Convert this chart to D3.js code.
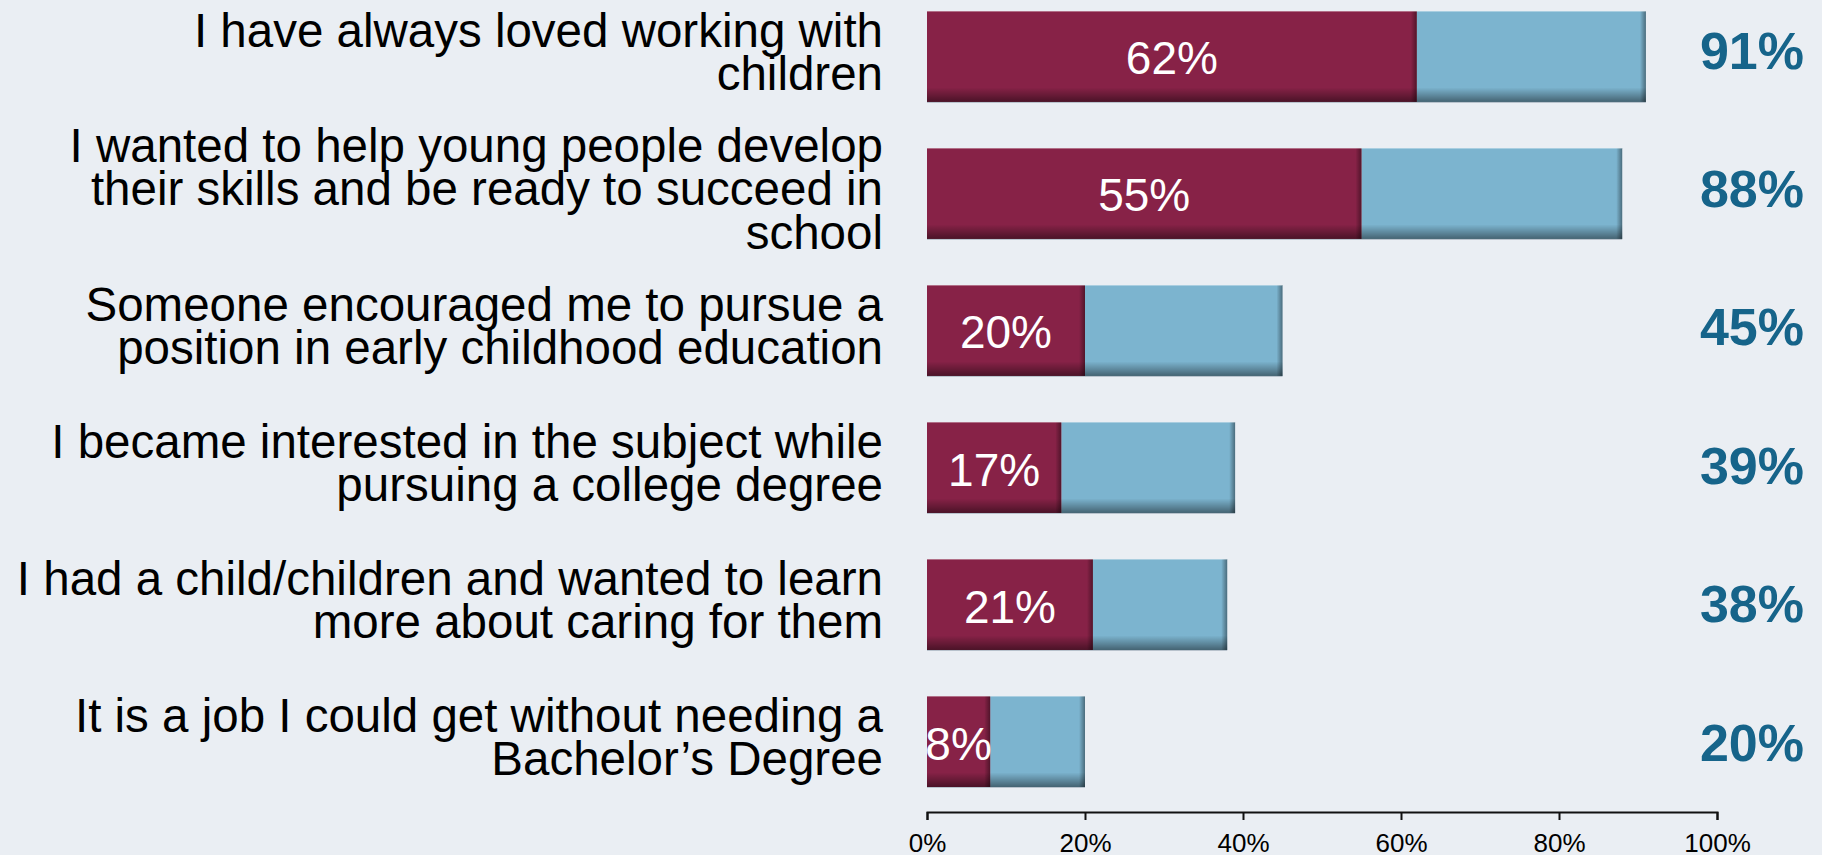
<!DOCTYPE html>
<html>
<head>
<meta charset="utf-8">
<script src="https://cdn.jsdelivr.net/npm/d3@7"></script>
<style>
  html, body { margin: 0; padding: 0; background: #eaeef3; }
  svg { display: block; font-family: "Liberation Sans", Arial, sans-serif; }
</style>
</head>
<body>
<svg id="chart" width="1822" height="855"></svg>
<script>
const categories = [
  "I have always loved working with\nchildren",
  "I wanted to help young people develop\ntheir skills and be ready to succeed in\nschool",
  "Someone encouraged me to pursue a\nposition in early childhood education",
  "I became interested in the subject while\npursuing a college degree",
  "I had a child/children and wanted to learn\nmore about caring for them",
  "It is a job I could get without needing a\nBachelor\u2019s Degree"
];
const primaryValues = [62, 55, 20, 17, 21, 8];
const totalValues = [91, 88, 45, 39, 38, 20];
const tickValues = [0, 20, 40, 60, 80, 100];

const svg = d3.select("#chart");
svg.append("rect").attr("width", 1822).attr("height", 855).attr("fill", "#eaeef3");

const x = d3.scaleLinear().domain([0, 100]).range([927, 1717]);
const y = d3.scaleBand().domain(categories).range([11, 787]).paddingInner(0.336).paddingOuter(0);
const yRight = d3.scalePoint().domain(categories).range([50, 742]);

const defs = svg.append("defs");
const vg = defs.append("linearGradient").attr("id", "bottomShade").attr("x1", 0).attr("y1", 0).attr("x2", 0).attr("y2", 1);
vg.append("stop").attr("offset", "0").attr("stop-color", "#000").attr("stop-opacity", 0);
vg.append("stop").attr("offset", "0.84").attr("stop-color", "#000").attr("stop-opacity", 0);
vg.append("stop").attr("offset", "0.93").attr("stop-color", "#000").attr("stop-opacity", 0.25);
vg.append("stop").attr("offset", "1").attr("stop-color", "#000").attr("stop-opacity", 0.45);
const hg = defs.append("linearGradient").attr("id", "rightShade").attr("x1", 0).attr("y1", 0).attr("x2", 1).attr("y2", 0);
hg.append("stop").attr("offset", "0").attr("stop-color", "#000").attr("stop-opacity", 0);
hg.append("stop").attr("offset", "1").attr("stop-color", "#000").attr("stop-opacity", 0.4);

const rows = categories.map((c, i) => ({ c, p: primaryValues[i], t: totalValues[i] }));
const bh = y.bandwidth();

const g = svg.append("g");
const row = g.selectAll("g.row").data(rows).join("g").attr("class", "row");

// blue (total) segment
row.append("rect")
  .attr("x", d => x(d.p)).attr("y", d => y(d.c))
  .attr("width", d => x(d.t) - x(d.p)).attr("height", bh)
  .attr("fill", "#7cb4cf");
// red (primary) segment
row.append("rect")
  .attr("x", x(0)).attr("y", d => y(d.c))
  .attr("width", d => x(d.p) - x(0)).attr("height", bh)
  .attr("fill", "#872247");
// bottom shading
row.append("rect")
  .attr("x", x(0)).attr("y", d => y(d.c))
  .attr("width", d => x(d.t) - x(0)).attr("height", bh)
  .attr("fill", "url(#bottomShade)");
// right edge shading of each segment
row.append("rect")
  .attr("x", d => x(d.p) - 6).attr("y", d => y(d.c))
  .attr("width", 6).attr("height", bh)
  .attr("fill", "url(#rightShade)");
row.append("rect")
  .attr("x", d => x(d.t) - 6).attr("y", d => y(d.c))
  .attr("width", 6).attr("height", bh)
  .attr("fill", "url(#rightShade)");
// thin light edges top & bottom
row.append("line")
  .attr("x1", x(0)).attr("x2", d => x(d.t))
  .attr("y1", d => y(d.c) + 0.5).attr("y2", d => y(d.c) + 0.5)
  .attr("stroke", "#ffffff").attr("stroke-opacity", 0.35).attr("stroke-width", 1);
row.append("line")
  .attr("x1", x(0)).attr("x2", d => x(d.t))
  .attr("y1", d => y(d.c) + bh + 0.5).attr("y2", d => y(d.c) + bh + 0.5)
  .attr("stroke", "#b8c2cc").attr("stroke-width", 1);

// in-bar labels
row.append("text")
  .attr("x", d => (x(0) + x(d.p)) / 2)
  .attr("y", d => y(d.c) + bh / 2 + 18)
  .attr("text-anchor", "middle")
  .attr("fill", "#ffffff")
  .attr("font-size", 46)
  .text(d => d.p + "%");

// right total labels
row.append("text")
  .attr("x", 1804)
  .attr("y", d => yRight(d.c) + 18.5)
  .attr("text-anchor", "end")
  .attr("fill", "#16648a")
  .attr("font-size", 52)
  .attr("font-weight", "bold")
  .text(d => d.t + "%");

// category labels
const lh = 43.5;
row.append("text")
  .attr("text-anchor", "end")
  .attr("fill", "#000")
  .attr("font-size", 47.5)
  .each(function(d) {
    const lines = d.c.split("\n");
    const first = y(d.c) + bh / 2 + 12 - (lines.length - 1) * lh / 2;
    d3.select(this).selectAll("tspan").data(lines).join("tspan")
      .attr("x", 883)
      .attr("y", (l, j) => first + j * lh)
      .text(l => l);
  });

// axis
const axis = d3.axisBottom(x).tickValues(tickValues).tickFormat(v => v + "%")
  .tickSize(8).tickSizeOuter(8).tickPadding(14);
const ax = svg.append("g").attr("transform", "translate(0,812)").call(axis);
ax.select(".domain").attr("stroke", "#111").attr("stroke-width", 2);
ax.selectAll(".tick line").attr("stroke", "#111").attr("stroke-width", 2);
ax.selectAll(".tick text").attr("fill", "#000").attr("font-size", 26)
  .attr("font-family", "'Liberation Sans', Arial, sans-serif");
</script>
</body>
</html>
